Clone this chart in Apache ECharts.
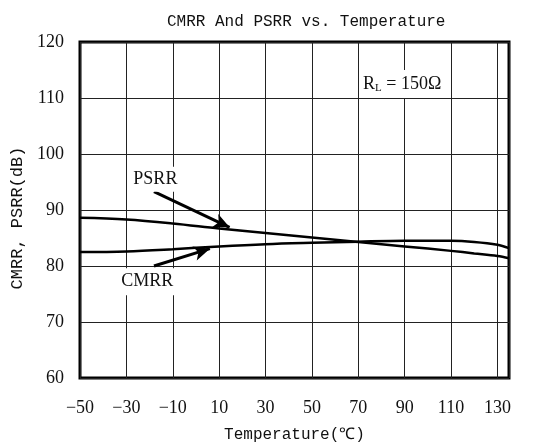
<!DOCTYPE html>
<html><head><meta charset="utf-8">
<script src="https://cdn.jsdelivr.net/npm/echarts@6/dist/echarts.min.js"></script>
<style>html,body{margin:0;padding:0;background:#fff}#c{width:542px;height:448px}</style>
</head><body><div id="c"></div>
<script>
const temps = [-50, -30, -10, 10, 30, 50, 70, 90, 110, 120, 130, 135];
const psrr  = [88.6, 88.3, 87.6, 86.7, 85.9, 85.1, 84.3, 83.5, 82.7, 82.25, 81.8, 81.4];
const cmrr  = [82.5, 82.6, 83.0, 83.5, 83.9, 84.15, 84.35, 84.5, 84.5, 84.3, 83.8, 83.2];
const xTickLabels = [-50, -30, -10, 10, 30, 50, 70, 90, 110, 130];
const yTickLabels = [60, 70, 80, 90, 100, 110, 120];
const titleText = 'CMRR And PSRR vs. Temperature';
const xName = 'Temperature(℃)';
const yName = 'CMRR, PSRR(dB)';
const psrrLabel = 'PSRR';
const cmrrLabel = 'CMRR';
const psrrLabelAt = [-17.5, 95.5];
const psrrArrowFrom = [-18.1, 93.3];
const psrrArrowTo = [14.5, 86.9];
const cmrrLabelAt = [-21.0, 77.2];
const cmrrArrowFrom = [-18.1, 80.0];
const cmrrArrowTo = [6.0, 83.1];
const rlAt = [71.0, 112.5];

const chart = echarts.init(document.getElementById('c'), null, {renderer: 'canvas'});
const serif = '"Liberation Serif", "Times New Roman", serif';
const mono = '"Liberation Mono", "Courier New", monospace';
const toPairs = (xs, ys) => xs.map((x, i) => [x, ys[i]]);

chart.setOption({
  animation: false,
  backgroundColor: '#fff',
  title: {
    text: titleText, left: 162, top: 9,
    textStyle: {fontFamily: mono, fontSize: 16, fontWeight: 'normal', color: '#111'}
  },
  grid: {left: 80, right: 33, top: 42, bottom: 68, show: true, borderColor: '#000', borderWidth: 3, backgroundColor: 'transparent'},
  xAxis: {
    type: 'value', min: -50, max: 135, interval: 20,
    name: xName, nameLocation: 'middle', nameGap: 49,
    nameTextStyle: {fontFamily: mono, fontSize: 16, color: '#111', padding: [0, 0, 0, 0]},
    axisLine: {show: false}, axisTick: {show: false},
    axisLabel: {
      margin: 21, fontFamily: serif, fontSize: 18, color: '#111', showMaxLabel: true,
      formatter: v => xTickLabels.indexOf(v) >= 0 ? String(v).replace('-', '\u2212') : ''
    },
    splitLine: {show: true, lineStyle: {color: '#222', width: 1}}
  },
  yAxis: {
    type: 'value', min: 60, max: 120, interval: 10,
    name: yName, nameLocation: 'middle', nameGap: 46, nameRotate: 90,
    nameTextStyle: {fontFamily: mono, fontSize: 17, color: '#111', padding: [0, 16, 0, 0]},
    axisLine: {show: false}, axisTick: {show: false},
    axisLabel: {
      margin: 16, fontFamily: serif, fontSize: 18, color: '#111',
      formatter: v => yTickLabels.indexOf(v) >= 0 ? String(v) : ''
    },
    splitLine: {show: true, lineStyle: {color: '#222', width: 1}}
  },
  series: [
    {
      name: 'PSRR', type: 'line', data: toPairs(temps, psrr), smooth: 0.35,
      showSymbol: false, lineStyle: {color: '#000', width: 2.5}, z: 3, silent: true,
      markLine: {
        silent: true, animation: false,
        lineStyle: {color: '#000', width: 3, type: 'solid'},
        label: {show: false},
        data: [[{coord: psrrArrowFrom, symbol: 'none'}, {coord: psrrArrowTo, symbol: 'arrow', symbolSize: [11, 16]}]]
      },
      markPoint: {
        silent: true, symbol: 'rect', symbolSize: 1, itemStyle: {color: 'rgba(0,0,0,0)'},
        label: {show: true, position: 'inside', fontFamily: serif, fontSize: 18, color: '#111', backgroundColor: '#fff', padding: [4, 3, 3, 3]},
        data: [{coord: psrrLabelAt, value: psrrLabel, label: {formatter: psrrLabel}}]
      }
    },
    {
      name: 'CMRR', type: 'line', data: toPairs(temps, cmrr), smooth: 0.35,
      showSymbol: false, lineStyle: {color: '#000', width: 2.5}, z: 3, silent: true,
      markLine: {
        silent: true, animation: false,
        lineStyle: {color: '#000', width: 3, type: 'solid'},
        label: {show: false},
        data: [[{coord: cmrrArrowFrom, symbol: 'none'}, {coord: cmrrArrowTo, symbol: 'arrow', symbolSize: [11, 16]}]]
      },
      markPoint: {
        silent: true, symbol: 'rect', symbolSize: 1, itemStyle: {color: 'rgba(0,0,0,0)'},
        label: {show: true, position: 'inside', fontFamily: serif, fontSize: 18, color: '#111', backgroundColor: '#fff', padding: [5, 6, 4, 6]},
        data: [
          {coord: cmrrLabelAt, value: cmrrLabel, label: {formatter: cmrrLabel}},
          {coord: rlAt, value: 'RL', label: {
            position: 'right', distance: 0, padding: [5, 6, 4, 2],
            formatter: '{r|R}{s|L}{r| = 150Ω}',
            rich: {r: {fontFamily: serif, fontSize: 18, color: '#111'}, s: {fontFamily: serif, fontSize: 11, color: '#111', verticalAlign: 'bottom', padding: [8, 0, 0, 0]}}
          }}
        ]
      }
    }
  ]
});
</script>
</body></html>
